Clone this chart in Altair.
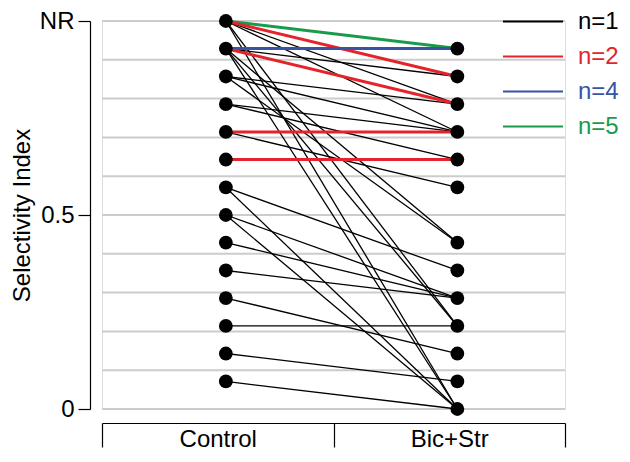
import altair as alt
import pandas as pd

# Selectivity index pairs (Control -> Bic+Str) and number of cells n per pair
control_vals = [1.0, 1.0, 1.0, 1.0, 1.0, 1.0,
                0.929, 0.929, 0.929, 0.929, 0.929, 0.929,
                0.857, 0.857, 0.857,
                0.786, 0.786,
                0.714, 0.714,
                0.643,
                0.571, 0.571,
                0.5, 0.5,
                0.429,
                0.357,
                0.286,
                0.214,
                0.143,
                0.071]
bic_vals = [0.929, 0.857, 0.786, 0.714, 0.214, 0.0,
            0.929, 0.857, 0.786, 0.429, 0.214, 0.0,
            0.786, 0.714, 0.429,
            0.714, 0.643,
            0.714, 0.571,
            0.643,
            0.357, 0.0,
            0.286, 0.0,
            0.286,
            0.286,
            0.143,
            0.214,
            0.071,
            0.0]
n_cells = [5, 2, 1, 1, 1, 1,
           4, 1, 2, 1, 1, 1,
           1, 1, 1,
           1, 1,
           2, 1,
           2,
           1, 1,
           1, 1,
           1,
           1,
           1,
           1,
           1,
           1]

conditions = ["Control", "Bic+Str"]
n_levels = [1, 2, 4, 5]
n_colors = ["#000000", "#e3242b", "#3853a4", "#1a9b4b"]
grid_vals = [0.0, 0.1, 0.2, 0.3, 0.4, 0.5, 0.6, 0.7, 0.8, 0.9, 1.0]
y_tick_vals = [0, 0.5, 1]

rows = []
for i, (c, b, n) in enumerate(zip(control_vals, bic_vals, n_cells)):
    rows.append({"pair": i, "cond": conditions[0], "val": c, "n": n})
    rows.append({"pair": i, "cond": conditions[1], "val": b, "n": n})
df = pd.DataFrame(rows)
pts = df[["cond", "val"]].drop_duplicates()
grid_df = pd.DataFrame({"val": grid_vals})

FONT = "Liberation Sans"

x_enc = alt.X(
    "cond:N", sort=conditions, bandPosition=0.535,
    scale=alt.Scale(type="band", paddingInner=0, paddingOuter=0),
    axis=alt.Axis(title=None, tickBand="extent", tickSize=24, tickColor="#000",
                  domainColor="#000", tickWidth=1.2, domainWidth=1.2,
                  labelPadding=-20, labelFontSize=24, labelColor="#000",
                  labelFont=FONT, offset=14, labelAngle=0),
)
y_scale = alt.Scale(domain=[0, 1], nice=False, zero=True)
y_axis = alt.Axis(title="Selectivity Index", values=y_tick_vals, grid=False,
                  labelExpr="datum.value == 1 ? 'NR' : (datum.value == 0 ? '0' : '0.5')",
                  tickSize=12, tickColor="#000", domainColor="#000", tickWidth=1.2,
                  domainWidth=1.2, labelFontSize=24, labelColor="#000", labelFont=FONT,
                  titleFontSize=24, titleFont=FONT, titleFontWeight="normal",
                  titleColor="#000", titlePadding=5, offset=12, labelPadding=4)
y_enc = alt.Y("val:Q", scale=y_scale, axis=y_axis)

color_enc = alt.Color(
    "n:O",
    scale=alt.Scale(domain=n_levels, range=n_colors),
    legend=alt.Legend(
        title=None, orient="none", legendX=400, legendY=-17, padding=0,
        symbolType="stroke", symbolSize=3600, symbolStrokeWidth=2,
        labelFontSize=24, labelFont=FONT,
        labelExpr="'n=' + datum.label",
        labelColor={"expr": "datum.value == 2 ? '#e3242b' : datum.value == 4 ? '#3853a4' : datum.value == 5 ? '#1a9b4b' : '#000000'"},
        rowPadding=0, labelOffset=14, clipHeight=35,
    ),
)

grid = alt.Chart(grid_df).mark_rule(color="#cccccc", strokeWidth=2).encode(
    y=y_enc
)

black_lines = alt.Chart(df).transform_filter("datum.n == 1").mark_line(strokeWidth=1.3).encode(
    x=x_enc, y=y_enc, detail="pair:N", color=color_enc
)
color_lines = alt.Chart(df).transform_filter("datum.n > 1").mark_line(strokeWidth=3).encode(
    x=x_enc, y=y_enc, detail="pair:N", color=color_enc
)
points = alt.Chart(pts).mark_circle(size=190, color="#000", opacity=1).encode(
    x=x_enc, y=y_enc
)

chart = alt.layer(grid, black_lines, color_lines, points).properties(
    width=463, height=388,
    autosize=alt.AutoSizeParams(type="none"),
    padding={"left": 94, "top": 13, "right": 57, "bottom": 54},
).configure_view(stroke="#cccccc", strokeWidth=2).configure(font=FONT)

chart.save("out.html", embed_options={"renderer": "svg", "actions": False})
